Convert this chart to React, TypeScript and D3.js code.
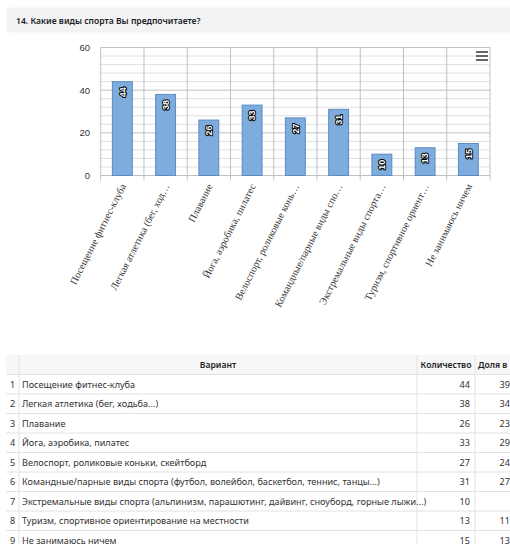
import React from "react";
import * as d3 from "d3";

const axisLabels = [
  "Посещение фитнес-клуба",
  "Легкая атлетика (бег, ход…",
  "Плавание",
  "Йога, аэробика, пилатес",
  "Велоспорт, роликовые конь…",
  "Командные/парные виды спо…",
  "Экстремальные виды спорта…",
  "Туризм, спортивное ориент…",
  "Не занимаюсь ничем",
];
const fullNames = [
  "Посещение фитнес-клуба",
  "Легкая атлетика (бег, ходьба...)",
  "Плавание",
  "Йога, аэробика, пилатес",
  "Велоспорт, роликовые коньки, скейтборд",
  "Командные/парные виды спорта (футбол, волейбол, баскетбол, теннис, танцы...)",
  "Экстремальные виды спорта (альпинизм, парашютинг, дайвинг, сноуборд, горные лыжи...)",
  "Туризм, спортивное ориентирование на местности",
  "Не занимаюсь ничем",
];
const counts = [44, 38, 26, 33, 27, 31, 10, 13, 15];
const shares = ["39", "34", "23", "29", "24", "27", "", "11", "13"];
const yTicks = [0, 20, 40, 60];
const title = "14. Какие виды спорта Вы предпочитаете?";
const colHeaders = ["Вариант", "Количество", "Доля в"];

export default function App() {
  const left = 100.7, right = 490, top = 47.5, bottom = 175.5;
  const x = d3.scaleBand<number>().domain(d3.range(counts.length)).range([left, right]).paddingInner(0.54).paddingOuter(0.27);
  const y = d3.scaleLinear().domain([0, 60]).range([bottom, top]);
  const step = (right - left) / counts.length;
  const minor = d3.range(0, 61, 4);
  const sans = "'Liberation Sans', Arial, sans-serif";
  const tableFont = "'Noto Sans', sans-serif";
  const rowH = 19.5;
  const headTop = 355;
  const c1 = 19, c2 = 417, c3 = 475;
  return (
    <div style={{ position: "absolute", left: 0, top: 0 }}>
      <svg width={510} height={544} style={{ display: "block" }}>
        <rect x={0} y={0} width={510} height={544} fill="#fff" />
        <rect x={6.5} y={7.5} width={520} height={25} rx={3} fill="#f2f3f5" />
        <text x={16} y={23.5} fontFamily={tableFont} fontSize={8.6} fontWeight={600} fill="#222">{title}</text>

        {minor.map((v) => (
          <line key={"m" + v} x1={left} x2={right} y1={y(v)} y2={y(v)} stroke={v % 20 === 0 ? "#c0c0c0" : "#e0e0e0"} strokeWidth={1} />
        ))}
        {d3.range(counts.length + 1).map((i) => (
          <line key={"v" + i} x1={left + i * step} x2={left + i * step} y1={top} y2={bottom + 5} stroke="#c0c0c0" />
        ))}
        {yTicks.map((v) => (
          <text key={"y" + v} x={90} y={y(v) + 3.5} textAnchor="end" fontFamily={sans} fontSize={9.5} fill="#333">{v}</text>
        ))}
        {counts.map((c, i) => (
          <rect key={"b" + i} x={x(i)} y={y(c)} width={x.bandwidth()} height={y(0) - y(c)} fill="#7eacdd" stroke="#5b8cc4" strokeWidth={1} />
        ))}
        {counts.map((c, i) => {
          const cx = (x(i) as number) + x.bandwidth() / 2;
          const cy = y(c) + 10.5;
          return (
            <text key={"l" + i} transform={`translate(${cx + 3.3},${cy}) rotate(-90)`} textAnchor="middle" fontFamily={sans} fontSize={9} fontWeight="bold" fill="#fff" stroke="#000" strokeWidth={2} paintOrder="stroke" strokeLinejoin="round">{c}</text>
          );
        })}
        {axisLabels.map((t, i) => {
          const cx = (x(i) as number) + x.bandwidth() / 2;
          return (
            <text key={"x" + i} transform={`translate(${cx + 4},${186}) rotate(-63)`} textAnchor="end" fontFamily="'Liberation Serif', serif" fontSize={10.2} fill="#333">{t}</text>
          );
        })}
        <g stroke="#666" strokeWidth={2}>
          {[52, 56, 60].map((yy) => (
            <line key={yy} x1={476} x2={488} y1={yy} y2={yy} />
          ))}
        </g>

        {/* table */}
        <rect x={6} y={headTop} width={510} height={rowH} fill="#f7f7f7" />
        <line x1={6} x2={510} y1={headTop + rowH} y2={headTop + rowH} stroke="#e2e2e2" />
        {fullNames.map((_, i) => (
          <line key={"r" + i} x1={6} x2={510} y1={headTop + rowH * (i + 2)} y2={headTop + rowH * (i + 2)} stroke="#e2e2e2" />
        ))}
        {[c1, c2, c3].map((cx) => (
          <line key={"c" + cx} x1={cx} x2={cx} y1={headTop} y2={544} stroke="#e2e2e2" />
        ))}
        <text x={(c1 + c2) / 2} y={headTop + 13} textAnchor="middle" fontFamily={tableFont} fontSize={8.6} fontWeight={600} fill="#222">{colHeaders[0]}</text>
        <text x={(c2 + c3) / 2} y={headTop + 13} textAnchor="middle" fontFamily={tableFont} fontSize={8.6} fontWeight={600} fill="#222">{colHeaders[1]}</text>
        <text x={c3 + 3} y={headTop + 13} fontFamily={tableFont} fontSize={8.6} fontWeight={600} fill="#222">{colHeaders[2]}</text>
        {fullNames.map((n, i) => {
          const ty = headTop + rowH * (i + 1) + 13;
          return (
            <g key={"t" + i} fontFamily={tableFont} fontSize={9.1} fill="#333">
              <text x={12.5} y={ty} textAnchor="middle">{i + 1}</text>
              <text x={22} y={ty}>{n}</text>
              <text x={c3 - 5} y={ty} textAnchor="end">{counts[i]}</text>
              <text x={510} y={ty} textAnchor="end">{shares[i]}</text>
            </g>
          );
        })}
      </svg>
    </div>
  );
}
